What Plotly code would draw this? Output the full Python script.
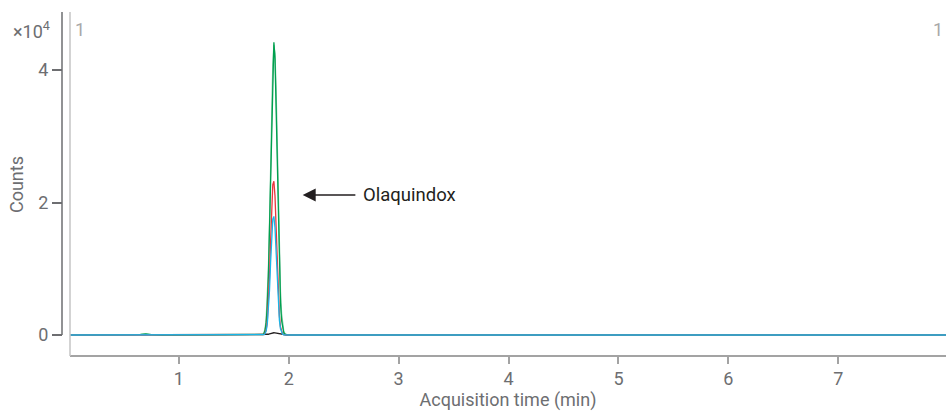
import plotly.graph_objects as go

# ---------------- data ----------------
time_left = [0.0, 0.3, 0.55, 0.65, 0.70, 0.75, 0.85, 1.2, 1.5, 1.7, 1.745]
time_peak = [1.755, 1.765, 1.775, 1.785, 1.795, 1.805, 1.815, 1.825, 1.835, 1.845, 1.855,
             1.865, 1.875, 1.885, 1.895, 1.905, 1.915, 1.925, 1.935, 1.945, 1.955, 1.965, 1.975]
time_right = [1.985, 2.02, 2.1, 2.3, 2.6, 3.0, 3.4, 3.8, 4.2, 4.4, 4.5, 4.6, 5.0, 5.4,
              5.8, 6.0, 6.2, 6.4, 6.6, 6.8, 7.0, 7.3, 7.6, 7.98]

dkgreen_peak = [0, 60, 230, 720, 1900, 4400, 8900, 15900, 24900, 34300, 41500,
                44200, 41700, 34800, 25600, 16800, 9700, 4900, 2200, 900, 340, 120, 40]
ltgreen_peak = [20, 90, 320, 950, 2400, 5200, 9900, 16800, 25300, 34000, 40700,
                43800, 42500, 37000, 28800, 19900, 12200, 6600, 3200, 1400, 560, 210, 70]
red_peak = [0, 15, 70, 260, 800, 2100, 4600, 8700, 14100, 19400, 22700,
            23200, 21000, 16400, 10900, 6100, 2900, 1200, 420, 130, 40, 10, 0]
blue_peak = [0, 10, 55, 200, 620, 1620, 3550, 6700, 10900, 15000, 17500,
             17900, 16200, 12650, 8400, 4700, 2240, 930, 320, 100, 30, 10, 0]
black_peak = [0, 0, 10, 20, 40, 70, 110, 170, 230, 290, 330,
              340, 330, 300, 250, 190, 130, 80, 45, 20, 10, 0, 0]

# baseline values: 11 left points then 24 right points
dkgreen_base = [0, 0, 20, 80, 150, 60, 0, 0, 0, 0, 0,
                30, 20, 0, 0, 0, 0, 0, 0, 40, 60, 90, 40, 0, 0,
                0, 60, 110, 70, 90, 100, 50, 30, 20, 0]
ltgreen_base = [0, 0, 10, 60, 120, 40, 0, 0, 0, 0, 0,
                40, 30, 10, 0, 0, 0, 0, 0, 30, 40, 60, 30, 0, 0,
                0, 40, 80, 60, 70, 80, 40, 30, 20, 0]
red_base = [0] * 35
blue_base = [0] * 35
black_base = [0] * 35

series = [
    ("black", black_base, black_peak, "#231f20"),
    ("light green", ltgreen_base, ltgreen_peak, "#7cc8a0"),
    ("dark green", dkgreen_base, dkgreen_peak, "#00a04f"),
    ("red", red_base, red_peak, "#e8373d"),
    ("blue", blue_base, blue_peak, "#17b6ea"),
]

ytick_vals = [0, 20000, 40000]
ytick_text = ["0", "2", "4"]
xtick_vals = [1, 2, 3, 4, 5, 6, 7]

# ---------------- figure ----------------
FONT = "Roboto"
GRAY = "#6d6e71"
FS = 18

fig = go.Figure()
x_all = time_left + time_peak + time_right
for name, base, peak, color in series:
    y_all = base[:11] + peak + base[11:]
    fig.add_trace(go.Scatter(x=x_all, y=y_all, mode="lines", name=name,
                             line=dict(color=color, width=1.3), showlegend=False,
                             hoverinfo="skip"))

y_lo, y_hi = -3170, 48755

fig.update_layout(
    width=946, height=412,
    margin=dict(l=62, r=0, t=12, b=56),
    paper_bgcolor="white", plot_bgcolor="white",
    font=dict(family=FONT, size=FS, color=GRAY),
    xaxis=dict(domain=[8 / 884, 1], range=[0.01, 7.98], anchor="free", position=0,
               showline=True, linecolor="#a3a3a3", linewidth=1.5,
               ticks="outside", ticklen=7, tickwidth=1.5, tickcolor="#a3a3a3",
               tickvals=xtick_vals, tickfont=dict(family=FONT, size=FS, color=GRAY),
               showgrid=False, zeroline=False,
               title=dict(text="Acquisition time (min)", standoff=0,
                          font=dict(family=FONT, size=FS, color=GRAY))),
    yaxis=dict(domain=[0, 1], range=[y_lo, y_hi], anchor="free", position=0,
               showline=False, ticks="outside", ticklen=10, tickwidth=1.5,
               tickcolor=GRAY, tickvals=ytick_vals, ticktext=ytick_text,
               tickfont=dict(family=FONT, size=FS, color=GRAY),
               showgrid=False, zeroline=False),
    shapes=[
        dict(type="line", xref="paper", yref="y", x0=0, x1=0, y0=0, y1=y_hi,
             line=dict(color=GRAY, width=1.5)),
        dict(type="line", xref="x domain", yref="paper", x0=0, x1=0, y0=0, y1=1,
             line=dict(color="#c4c4c4", width=1.5)),
    ],
    annotations=[
        dict(text="×10<sup>4</sup>", xref="paper", yref="paper",
             x=-0.035, y=0.948, xanchor="center", yanchor="middle", showarrow=False,
             font=dict(family=FONT, size=FS, color=GRAY)),
        dict(text="Counts", xref="paper", yref="paper", textangle=-90,
             x=-0.052, y=0.497, xanchor="center", yanchor="middle", showarrow=False,
             font=dict(family=FONT, size=FS, color=GRAY)),
        dict(text="1", xref="paper", yref="paper", x=0.0204, y=0.948,
             xanchor="center", yanchor="middle", showarrow=False,
             font=dict(family=FONT, size=18, color="#a8a8a8")),
        dict(text="1", xref="paper", yref="paper", x=0.9915, y=0.948,
             xanchor="center", yanchor="middle", showarrow=False,
             font=dict(family=FONT, size=18, color="#a8a8a8")),
        dict(text="", x=2.127, y=21132, ax=2.62, ay=21132, xref="x", yref="y",
             axref="x", ayref="y", showarrow=True, arrowhead=2, arrowsize=2,
             arrowwidth=1.3, arrowcolor="#231f20"),
        dict(text="Olaquindox", x=2.655, y=21132, xref="x", yref="y",
             xanchor="left", yanchor="middle", showarrow=False,
             font=dict(family=FONT, size=18.5, color="#231f20")),
    ],
)

# remove the default page margin so the 946x412 figure fills the window exactly
fig.write_html("out.html",
               config={"displayModeBar": False},
               post_script="document.body.style.margin='0';"
                           "document.body.style.overflow='hidden';")
